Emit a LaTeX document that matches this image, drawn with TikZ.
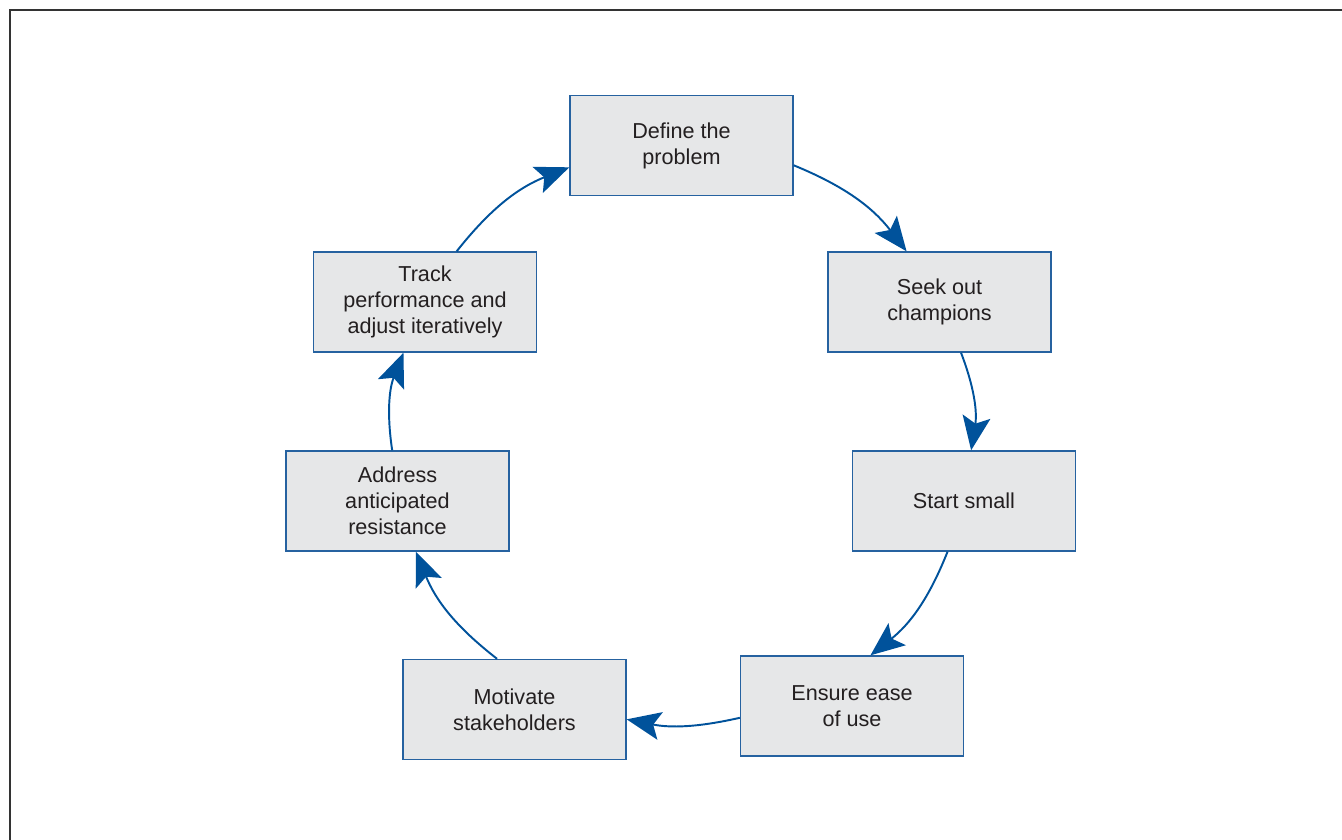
\documentclass[tikz,border=0pt]{standalone}
\usepackage{fontspec}
\setmainfont{Liberation Sans}
\usetikzlibrary{arrows.meta}
\definecolor{boxfill}{RGB}{230,231,232}
\definecolor{boxline}{RGB}{38,98,160}
\definecolor{arrowblue}{RGB}{0,82,155}
\definecolor{textgray}{RGB}{35,31,32}
\begin{document}
\begin{tikzpicture}[x=0.02cm, y=-0.02cm]
    \tikzstyle{stage} = [rectangle, draw=boxline, line width=0.8pt, fill=boxfill, text=textgray, align=center, minimum width=4.46cm, minimum height=2cm, font=\fontsize{12.3}{14.8}\selectfont]
    \tikzstyle{arrow} = [draw=arrowblue, line width=1.1pt, -{Stealth[length=0.68cm, width=0.56cm, inset=0.14cm]}]
    \tikzstyle{frame} = [draw=black!80, line width=1.3pt]

    \useasboundingbox (0,0) rectangle (1342,839);
    \draw [frame] (10,850) -- (10,10) -- (1350,10);

    % Stages
    \node [stage] (define) at (681.5,145.5) {Define the\\problem};
    \node [stage] (seek) at (939.5,302) {Seek out\\champions};
    \node [stage] (small) at (964,501) {Start small};
    \node [stage] (ease) at (852,706) {Ensure ease\\of use};
    \node [stage] (motivate) at (514.5,709.5) {Motivate\\stakeholders};
    \node [stage] (resist) at (397.5,501) {Address\\anticipated\\resistance};
    \node [stage] (track) at (425,302) {Track\\performance and\\adjust iteratively};

    % Connections
    \draw [arrow] (define.-10.9) to[bend left=15] (seek.123.3);
    \draw [arrow] (seek.-67.7) to[bend left=15] (small.82.2);
    \draw [arrow] (small.-108.8) to[bend left=15] (ease.70.2);
    \draw [arrow] (ease.186.1) to[bend left=12] (motivate.-5.3);
    \draw [arrow] (motivate.109.5) to[bend left=15] (resist.-70.4);
    \draw [arrow] (resist.96.3) to[bend left=15] (track.-113.3);
    \draw [arrow] (track.58.2) to[bend left=15] (define.191.3);
\end{tikzpicture}
\end{document}
